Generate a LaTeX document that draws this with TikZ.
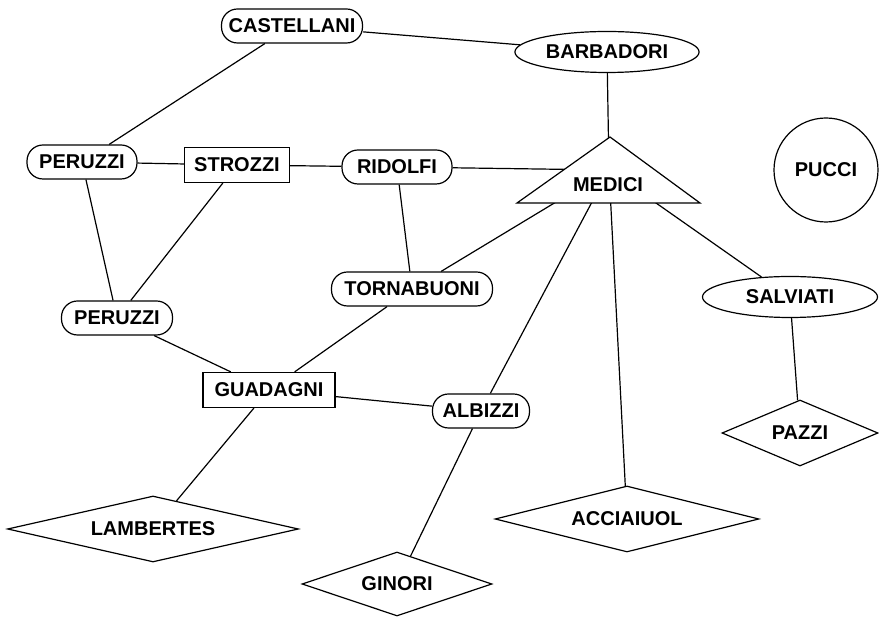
\documentclass[tikz,border=0pt]{standalone}
\usepackage{fontspec}
\setmainfont{Liberation Sans}
\usetikzlibrary{shapes.geometric}

\begin{document}
\begin{tikzpicture}[x=0.5pt, y=-0.5pt, line width=0.6pt,
    every node/.style={font=\fontsize{10}{12}\selectfont\bfseries, inner sep=2pt},
    pill/.style={draw, rectangle, rounded corners=8pt, minimum width=#1, minimum height=17pt},
    box/.style={draw, rectangle, minimum width=#1, minimum height=17.5pt},
    oval/.style={draw, ellipse, minimum width=#1, minimum height=20.5pt},
    rhomb/.style={draw, diamond, minimum height=33pt}]
    \useasboundingbox (0,0) rectangle (879,619);

    % Families
    \node[pill=70.5pt] (castellani) at (292,26) {CASTELLANI};
    \node[oval=89pt] (barbadori) at (607,52) {BARBADORI};
    \node[pill=55pt] (peruzzia) at (82,162) {PERUZZI};
    \node[box=52.5pt] (strozzi) at (237,165) {STROZZI};
    \node[pill=55pt] (ridolfi) at (397,167) {RIDOLFI};
    \coordinate (medici) at (609,170);
    \node[draw, circle, minimum size=52pt] (pucci) at (826,170) {PUCCI};
    \node[pill=80.5pt] (tornabuoni) at (412,289) {TORNABUONI};
    \node[oval=87.5pt] (salviati) at (790,297) {SALVIATI};
    \node[pill=55.5pt] (peruzzib) at (117,318) {PERUZZI};
    \node[box=66pt] (guadagni) at (269,390) {GUADAGNI};
    \node[pill=48.5pt] (albizzi) at (481,411) {ALBIZZI};
    \node[rhomb, aspect=2.3, minimum width=78pt] (pazzi) at (800,433) {PAZZI};
    \node[rhomb, aspect=3.9, minimum width=132pt] (acciaiuol) at (627,519) {ACCIAIUOL};
    \node[rhomb, aspect=4.3, minimum width=145.5pt] (lambertes) at (153,529) {LAMBERTES};
    \node[rhomb, aspect=3, minimum width=95pt, minimum height=32pt] (ginori) at (397,584) {GINORI};

    % Marriage ties
    \foreach \a/\b in {castellani/barbadori, castellani/peruzzia, barbadori/medici,
                       peruzzia/strozzi, strozzi/ridolfi, ridolfi/medici,
                       peruzzia/peruzzib, strozzi/peruzzib, ridolfi/tornabuoni,
                       medici/tornabuoni, medici/albizzi, medici/acciaiuol,
                       medici/salviati, salviati/pazzi, peruzzib/guadagni,
                       tornabuoni/guadagni, guadagni/albizzi, guadagni/lambertes,
                       albizzi/ginori}
        \draw (\a) -- (\b);

    % Medici triangle on top of the ties
    \draw[fill=white] (610,137) -- (700,203) -- (517,203) -- cycle;
    \node (medicitext) at (608,185) {MEDICI};
\end{tikzpicture}
\end{document}
